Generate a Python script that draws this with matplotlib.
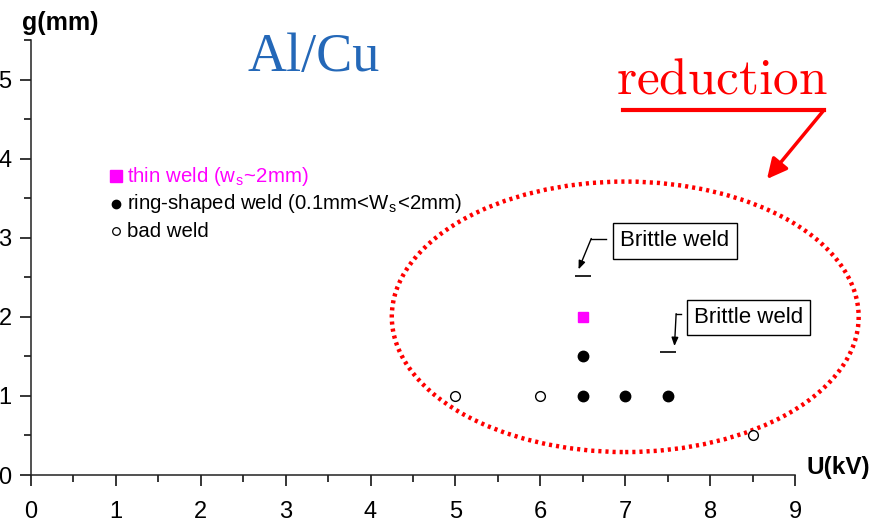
"""Welding window plot for Al/Cu: gap g versus charging voltage U."""

import matplotlib
matplotlib.use("Agg")
from matplotlib import pyplot as plt
from matplotlib.patches import Ellipse, FancyArrowPatch

plt.rcParams['font.family'] = ['Liberation Sans', 'DejaVu Sans']
plt.rcParams['mathtext.fontset'] = 'cm'

# data
bad_u = [5.0, 6.0, 8.5]
bad_g = [1.0, 1.0, 0.5]
ring_u = [6.5, 7.0, 7.5, 6.5]
ring_g = [1.0, 1.0, 1.0, 1.5]
thin_u = [6.5]
thin_g = [2.0]
brittle_u = [6.5, 7.5]
brittle_g = [2.52, 1.55]

x_ticks = [0, 1, 2, 3, 4, 5, 6, 7, 8, 9]
y_ticks = [0, 1, 2, 3, 4, 5]

legend_labels = ['thin weld (w$_\\mathregular{s}$~2mm)',
                 'ring-shaped weld (0.1mm<W$_\\mathregular{s}$<2mm)',
                 'bad weld']

fig = plt.figure(figsize=(8.69, 5.22), dpi=100)
ax = fig.add_axes([31 / 869, 47 / 522, 764 / 869, 435 / 522])
ax.set_xlim(0, 9)
ax.set_ylim(0, 5.5)

for side in ('top', 'right'):
    ax.spines[side].set_visible(False)
for side in ('left', 'bottom'):
    ax.spines[side].set_linewidth(1.1)
    ax.spines[side].set_color('#222222')

ax.set_xticks(x_ticks)
ax.set_yticks(y_ticks)
ax.set_xticks([v + 0.5 for v in x_ticks[:-1]], minor=True)
ax.set_yticks([v + 0.5 for v in y_ticks], minor=True)
ax.tick_params(which='major', direction='out', length=8, width=1.1,
               labelsize=17)
ax.tick_params(axis='x', which='major', pad=11)
ax.tick_params(axis='y', which='major', pad=6)
ax.tick_params(which='minor', direction='out', length=5, width=1.1)

# axis titles
fig.text(22 / 869, 1 - 30 / 522, 'g(mm)', fontsize=18, fontweight='bold')
fig.text(806 / 869, 1 - 474 / 522, 'U(kV)', fontsize=17.5, fontweight='bold')

# data points
ax.plot(bad_u, bad_g, 'o', ms=7, mfc='white', mec='black', mew=1.0,
        clip_on=False)
ax.plot(ring_u, ring_g, 'o', ms=7.5, color='black')
ax.plot(thin_u, thin_g, 's', ms=7.5, color='#ff00ff')
ax.plot(brittle_u, brittle_g, '_', ms=12, color='black', mew=1.2)

# legend drawn by hand
leg_y = [3.78, 3.43, 3.08]
ax.plot([1.0], [leg_y[0]], 's', ms=8, color='#ff00ff')
ax.plot([1.0], [leg_y[1]], 'o', ms=6, color='black')
ax.plot([1.0], [leg_y[2]], 'o', ms=5.5, mfc='white', mec='black', mew=0.9)
ax.text(1.13, leg_y[0], legend_labels[0], color='#ff00ff', fontsize=14.7,
        va='center')
ax.text(1.13, leg_y[1], legend_labels[1], color='black', fontsize=14.7,
        va='center')
ax.text(1.13, leg_y[2], legend_labels[2], color='black', fontsize=14.7,
        va='center')

# brittle weld callouts
box = dict(boxstyle='square,pad=0.33', fc='white', ec='black', lw=1.0)
ax.text(6.94, 2.96, 'Brittle weld', fontsize=16, va='center', bbox=box)
ax.text(7.81, 1.99, 'Brittle weld', fontsize=16, va='center', bbox=box)
ax.plot([6.77, 6.6], [2.99, 2.99], color='black', lw=1.0)
ax.annotate('', xy=(6.45, 2.6), xytext=(6.6, 2.99),
            arrowprops=dict(arrowstyle='-|>,head_length=0.5,head_width=0.2',
                            color='black', lw=1.0, shrinkA=0, shrinkB=0))
ax.plot([7.66, 7.6], [2.04, 2.04], color='black', lw=1.0)
ax.annotate('', xy=(7.58, 1.63), xytext=(7.6, 2.04),
            arrowprops=dict(arrowstyle='-|>,head_length=0.5,head_width=0.2',
                            color='black', lw=1.0, shrinkA=0, shrinkB=0))

# red dotted region
ell = Ellipse((7.0, 2.0), 5.5, 3.42, fill=False, ec='#ff0000', lw=3.2,
              ls=(0, (0.7, 0.9)), clip_on=False)
ax.add_patch(ell)

# title-like labels
fig.text(247 / 869, 1 - 71 / 522, 'Al/Cu', fontsize=39, color='#2468b8',
         family='Liberation Serif')
fig.text(616 / 869, 1 - 93 / 522, r'$\mathrm{reduction}$', fontsize=37,
         color='#ff0000')
fig.add_artist(plt.Line2D([623 / 869, 824 / 869], [1 - 110 / 522, 1 - 110 / 522],
                          color='#ff0000', lw=3))
fig.add_artist(FancyArrowPatch(
    (824 / 869, 1 - 110 / 522), (767 / 869, 1 - 179 / 522),
    transform=fig.transFigure, color='#ff0000', lw=2.5,
    arrowstyle='-|>,head_length=8,head_width=4', mutation_scale=1.5,
    shrinkA=0, shrinkB=0))

fig.savefig('out.png', dpi=100)
